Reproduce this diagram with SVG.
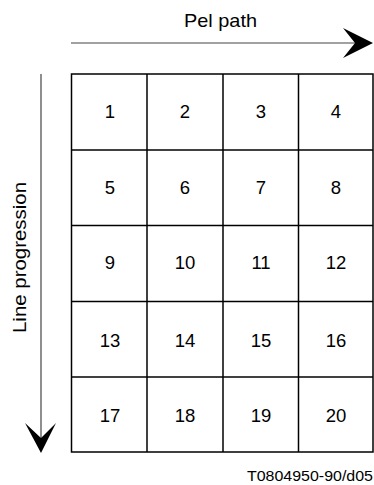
<svg xmlns="http://www.w3.org/2000/svg" width="374" height="485" viewBox="0 0 374 485">
<style>
.t{font-family:"Liberation Sans",Arial,sans-serif;fill:#000}
.n{font-size:18.5px;text-anchor:middle}
.g{fill:none;stroke:#000;stroke-width:1.5}
.a{fill:none;stroke:#444;stroke-width:1.2}
</style>
<rect width="374" height="485" fill="#fff"/>
<g id="connectors">
<line class="a" x1="71" y1="43" x2="358" y2="43"/>
<path d="M373,43 L343,28 L355,43 L343,58 Z" fill="#000"/>
<line class="a" x1="41" y1="74" x2="41" y2="438"/>
<path d="M41,453 L25,423 L41,438 L56,423 Z" fill="#000"/>
</g>
<g id="grid">
<rect class="g" x="71.5" y="74" width="301.5" height="378"/>
<line class="g" x1="147" y1="74" x2="147" y2="452"/>
<line class="g" x1="223" y1="74" x2="223" y2="452"/>
<line class="g" x1="298.5" y1="74" x2="298.5" y2="452"/>
<line class="g" x1="71" y1="150" x2="373" y2="150"/>
<line class="g" x1="71" y1="225.5" x2="373" y2="225.5"/>
<line class="g" x1="71" y1="301.5" x2="373" y2="301.5"/>
<line class="g" x1="71" y1="377" x2="373" y2="377"/>
</g>
<g id="cells" class="t n">
<text x="110" y="118">1</text><text x="185" y="118">2</text><text x="261" y="118">3</text><text x="336" y="118">4</text>
<text x="110" y="194">5</text><text x="185" y="194">6</text><text x="261" y="194">7</text><text x="336" y="194">8</text>
<text x="110" y="269">9</text><text x="185" y="269">10</text><text x="261" y="269">11</text><text x="336" y="269">12</text>
<text x="110" y="347">13</text><text x="185" y="347">14</text><text x="261" y="347">15</text><text x="336" y="347">16</text>
<text x="110" y="422">17</text><text x="185" y="422">18</text><text x="261" y="422">19</text><text x="336" y="422">20</text>
</g>
<g id="labels">
<text class="t" x="184" y="27" font-size="19" textLength="73" lengthAdjust="spacingAndGlyphs">Pel path</text>
<text class="t" transform="translate(26,333) rotate(-90)" font-size="19" textLength="151" lengthAdjust="spacingAndGlyphs">Line progression</text>
<text class="t" x="247" y="481" font-size="14" textLength="126" lengthAdjust="spacingAndGlyphs">T0804950-90/d05</text>
</g>
</svg>
